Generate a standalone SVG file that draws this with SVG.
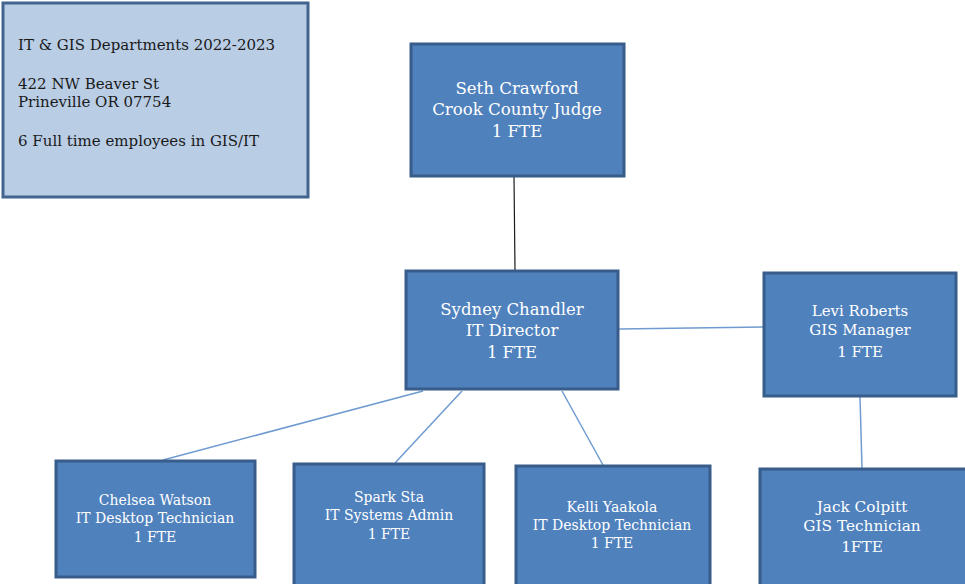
<svg xmlns="http://www.w3.org/2000/svg" width="965" height="584" viewBox="0 0 965 584">
  <style>
    .box { fill: #4f81bd; stroke: #385d8a; stroke-width: 3; }
    .info { fill: #b9cde5; stroke: #41658f; stroke-width: 3; }
    .lbl { font-family: "DejaVu Serif", "Liberation Serif", serif; fill: #ffffff; text-anchor: middle; }
    .infotxt { font-family: "DejaVu Serif", "Liberation Serif", serif; fill: #1a1a1a; font-size: 15px; }
    .link { stroke: #6f9bd1; stroke-width: 1.5; fill: none; }
    .link-dark { stroke: #1a1a1a; stroke-width: 1.2; fill: none; }
  </style>
  <rect width="965" height="584" fill="#ffffff"/>

  <!-- reporting lines -->
  <g id="connectors">
    <line class="link-dark" x1="514" y1="177" x2="515" y2="270"/>
    <line class="link" x1="619" y1="329" x2="764" y2="327"/>
    <line class="link" x1="423" y1="391" x2="163" y2="460"/>
    <line class="link" x1="462" y1="391" x2="395" y2="463"/>
    <line class="link" x1="562" y1="391" x2="603" y2="465"/>
    <line class="link" x1="860" y1="397" x2="862" y2="468"/>
  </g>

  <g id="info">
    <rect class="info" x="3" y="3" width="305" height="194"/>
    <text class="infotxt" x="18" y="50">IT &amp; GIS Departments 2022-2023</text>
    <text class="infotxt" x="18" y="89">422 NW Beaver St</text>
    <text class="infotxt" x="18" y="107">Prineville OR 07754</text>
    <text class="infotxt" x="18" y="146">6 Full time employees in GIS/IT</text>
  </g>

  <g id="seth">
    <rect class="box" x="411" y="44" width="213" height="132"/>
    <text class="lbl" font-size="16.6" x="517" y="94">Seth Crawford</text>
    <text class="lbl" font-size="16.6" x="517" y="115">Crook County Judge</text>
    <text class="lbl" font-size="16.6" x="517" y="137">1 FTE</text>
  </g>

  <g id="sydney">
    <rect class="box" x="406" y="271" width="212" height="118"/>
    <text class="lbl" font-size="16.5" x="512" y="315">Sydney Chandler</text>
    <text class="lbl" font-size="16.5" x="512" y="336">IT Director</text>
    <text class="lbl" font-size="16.5" x="512" y="358">1 FTE</text>
  </g>

  <g id="levi">
    <rect class="box" x="764" y="273" width="192" height="123"/>
    <text class="lbl" font-size="15" x="860" y="316">Levi Roberts</text>
    <text class="lbl" font-size="15" x="860" y="335">GIS Manager</text>
    <text class="lbl" font-size="15" x="860" y="357">1 FTE</text>
  </g>

  <g id="chelsea">
    <rect class="box" x="56" y="461" width="199" height="116"/>
    <text class="lbl" font-size="14" x="155" y="505">Chelsea Watson</text>
    <text class="lbl" font-size="14" x="155" y="523">IT Desktop Technician</text>
    <text class="lbl" font-size="14" x="155" y="542">1 FTE</text>
  </g>

  <g id="spark">
    <rect class="box" x="294" y="464" width="190" height="122"/>
    <text class="lbl" font-size="14" x="389" y="502">Spark Sta</text>
    <text class="lbl" font-size="14" x="389" y="520">IT Systems Admin</text>
    <text class="lbl" font-size="14" x="389" y="539">1 FTE</text>
  </g>

  <g id="kelli">
    <rect class="box" x="516" y="466" width="194" height="122"/>
    <text class="lbl" font-size="14" x="612" y="512">Kelli Yaakola</text>
    <text class="lbl" font-size="14" x="612" y="530">IT Desktop Technician</text>
    <text class="lbl" font-size="14" x="612" y="548">1 FTE</text>
  </g>

  <g id="jack">
    <rect class="box" x="760" y="469" width="210" height="120"/>
    <text class="lbl" font-size="15.3" x="862" y="512">Jack Colpitt</text>
    <text class="lbl" font-size="15.3" x="862" y="531">GIS Technician</text>
    <text class="lbl" font-size="15.3" x="862" y="552">1FTE</text>
  </g>
</svg>
